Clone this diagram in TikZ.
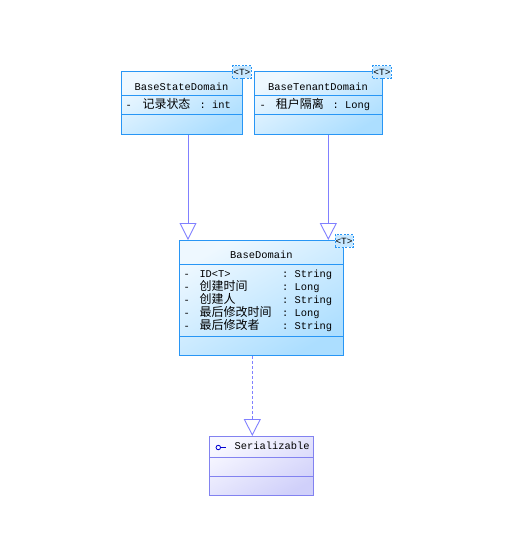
\documentclass[tikz,border=0pt]{standalone}
\usepackage{fontspec}
\setmonofont{Liberation Mono}
\newfontfamily\cjk{Noto Sans CJK SC}
\usetikzlibrary{arrows.meta}
\definecolor{cborder}{RGB}{40,150,245}
\definecolor{cfillA}{RGB}{238,248,255}
\definecolor{cfillB}{RGB}{172,222,255}
\definecolor{iborder}{RGB}{130,130,240}
\definecolor{ifillA}{RGB}{248,248,255}
\definecolor{ifillB}{RGB}{208,208,250}
\definecolor{conn}{RGB}{128,128,255}
\definecolor{tfill}{RGB}{200,232,255}
\definecolor{iicon}{RGB}{0,0,210}
\begin{document}
\begin{tikzpicture}[x=1pt,y=-1pt,
  classbox/.style={draw=cborder, line width=0.9pt, anchor=north west, inner sep=0pt,
    top color=cfillA, bottom color=cfillB, shading angle=30},
  ifacebox/.style={draw=iborder, line width=0.9pt, anchor=north west, inner sep=0pt,
    top color=ifillA, bottom color=ifillB, shading angle=30},
  csep/.style={draw=cborder, line width=0.9pt},
  isep/.style={draw=iborder, line width=0.9pt},
  tbox/.style={draw=cborder, dashed, dash pattern=on 2pt off 1.5pt, fill=tfill, line width=0.8pt,
    minimum width=18.4pt, minimum height=12.7pt, inner sep=0pt, anchor=north west,
    font=\fontsize{9.5}{9.5}\ttfamily},
  lat/.style={inner sep=0pt, anchor=base west, font=\fontsize{10.4}{10}\ttfamily},
  zh/.style={inner sep=0pt, anchor=base west, font=\fontsize{12}{12}\cjk},
  ttl/.style={inner sep=0pt, anchor=base, font=\fontsize{10.4}{10}\ttfamily},
  gen/.style={draw=conn, line width=0.9pt, -{Triangle[open, length=17pt, width=17pt, fill=white]}},
  real/.style={gen, dash pattern=on 3pt off 2pt},
]
\useasboundingbox (0,0) rectangle (522,558);

% ---------- BaseStateDomain
\node[classbox, minimum width=120.4pt, minimum height=63pt] (bs) at (121.3,71.3) {};
\draw[csep] (121.3,95.3) -- (241.7,95.3);
\draw[csep] (121.3,114.3) -- (241.7,114.3);
\node[tbox] (bsT) at (232.3,65.3) {<T>};
\node[ttl] (bsN) at (181.5,90) {BaseStateDomain};
\node[lat] (bsA1) at (125.5,108.5) {-};
\node[zh]  (bsA2) at (142.3,108.5) {记录状态};
\node[lat] (bsA3) at (199.5,108.5) {: int};

% ---------- BaseTenantDomain
\node[classbox, minimum width=127.4pt, minimum height=63pt] (bt) at (254.3,71.3) {};
\draw[csep] (254.3,95.3) -- (381.7,95.3);
\draw[csep] (254.3,114.3) -- (381.7,114.3);
\node[tbox] (btT) at (372.3,65.3) {<T>};
\node[ttl] (btN) at (318,90) {BaseTenantDomain};
\node[lat] (btA1) at (259.5,108.5) {-};
\node[zh]  (btA2) at (275.7,108.5) {租户隔离};
\node[lat] (btA3) at (332.5,108.5) {: Long};

% ---------- BaseDomain
\node[classbox, minimum width=164pt, minimum height=115pt] (bd) at (179.3,240) {};
\draw[csep] (179.3,264.3) -- (343.3,264.3);
\draw[csep] (179.3,336.7) -- (343.3,336.7);
\node[tbox] (bdT) at (334.5,234.3) {<T>};
\node[ttl] (bdN) at (261.3,258.7) {BaseDomain};
\foreach \yy/\nm/\isz/\ty [count=\i] in {277/ID<T>/0/String, 290/创建时间/1/Long, 303/创建人/1/String, 316/最后修改时间/1/Long, 329/最后修改者/1/String}{
  \node[lat] (bdD\i) at (183.5,\yy) {-};
  \ifnum\isz=0
    \node[lat] (bdM\i) at (199.3,\yy) {\nm};
  \else
    \node[zh] (bdM\i) at (199.3,\yy) {\nm};
  \fi
  \node[lat] (bdC\i) at (282,\yy) {: \ty};
}

% ---------- Serializable
\node[ifacebox, minimum width=104pt, minimum height=59pt] (se) at (209.3,436) {};
\draw[isep] (209.3,457.7) -- (313.3,457.7);
\draw[isep] (209.3,476.7) -- (313.3,476.7);
\node[circle, draw=iicon, line width=0.8pt, minimum size=4.5pt, inner sep=0pt] (seI) at (218.3,447.5) {};
\coordinate (seL) at (226,447.5);
\draw[iicon, line width=0.8pt] (seI.east) -- (seL);
\node[lat] (seN) at (234.5,449) {Serializable};

% ---------- connectors
\coordinate (bsX) at (188,0);
\coordinate (btX) at (328.3,0);
\coordinate (bdX) at (252.3,0);
\draw[gen] (bs.south -| bsX) -- (bd.north -| bsX);
\draw[gen] (bt.south -| btX) -- (bd.north -| btX);
\draw[real] (bd.south -| bdX) -- (se.north -| bdX);
\end{tikzpicture}
\end{document}
